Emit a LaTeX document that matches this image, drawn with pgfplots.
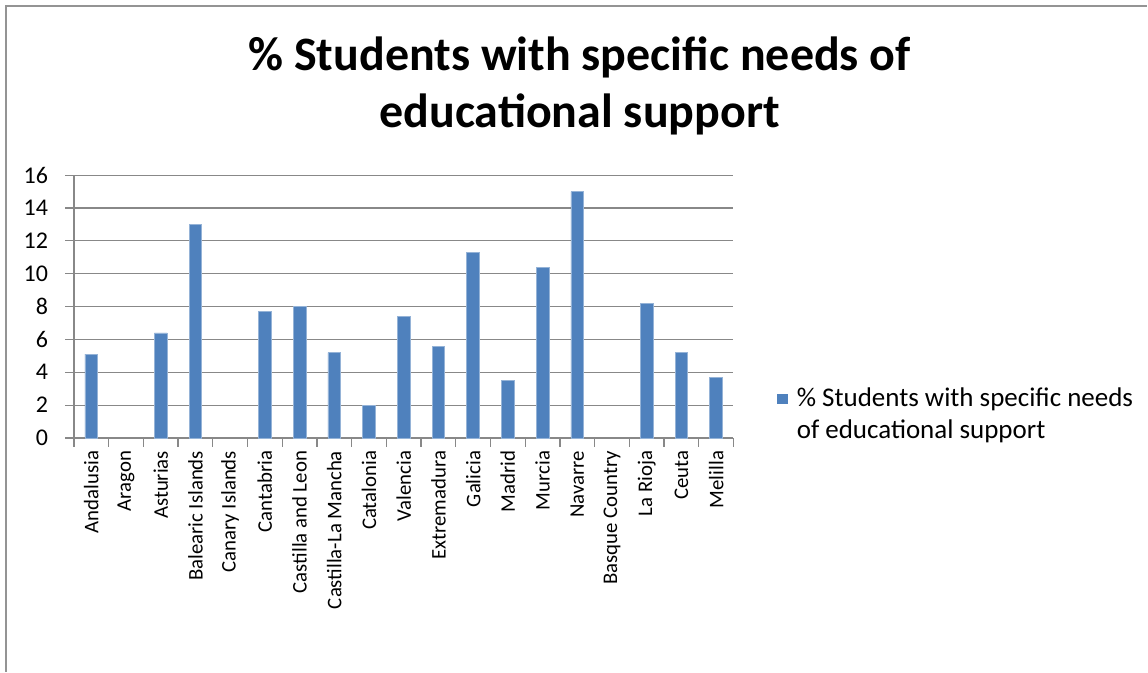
\documentclass[border=0pt]{standalone}
\usepackage{pgfplots}
\pgfplotsset{compat=1.18}
\usepackage{fontspec}
\setmainfont{Carlito}
\definecolor{barblue}{HTML}{4F81BD}
\definecolor{gridgray}{HTML}{888888}
\begin{document}
\begin{tikzpicture}
\begin{axis}[scale only axis, clip=false,
  width=330pt, height=131.5pt,
  ymin=0, ymax=16, ytick={0,2,...,16},
  xmin=-0.5, xmax=18.5,
  xtick={-0.5,0.5,...,18.5}, x tick label as interval,
  xticklabels={Andalusia,Aragon,Asturias,Balearic Islands,Canary Islands,Cantabria,Castilla and Leon,Castilla-La Mancha,Catalonia,Valencia,Extremadura,Galicia,Madrid,Murcia,Navarre,Basque Country,La Rioja,Ceuta,Melilla},
  x tick label style={rotate=90, anchor=east, font=\fontsize{10.4}{12}\selectfont, inner sep=2pt},
  y tick label style={font=\fontsize{12}{12}\selectfont, inner sep=2pt, xshift=-6.5pt},
  /pgf/number format/assume math mode=true,
  axis lines*=left,
  axis line style={gridgray, line width=0.6pt},
  ymajorgrids, grid style={gridgray, line width=0.6pt},
  tick align=outside, major tick length=4.3pt,
  tick style={gridgray, line width=0.6pt},
  legend style={at={(1.063,0.089)}, anchor=west, draw=none, fill=none, inner sep=1pt,
    font=\fontsize{13.5}{16}\selectfont, cells={align=left}},
  legend image code/.code={\fill[barblue, draw=none] (0pt,5.3pt) rectangle (5.2pt,10.5pt);\path[draw=none, fill=none] (0pt,6pt) -- (7.7pt,6pt);},
]
\addplot[ybar, bar width=6.35pt, fill=barblue, draw=barblue!60!white, line width=0.3pt]
coordinates {(0,5.1) (2,6.4) (3,13.0) (5,7.7) (6,8.0) (7,5.2) (8,2.0) (9,7.4) (10,5.6) (11,11.3) (12,3.5) (13,10.4) (14,15.0) (16,8.2) (17,5.2) (18,3.7)};
\addlegendentry{\% Students with specific needs\\of educational support}
\path (rel axis cs:-0.1121,-0.8886) rectangle (rel axis cs:1.6273,1.6665);
\draw[gridgray!90, line width=0.8pt] (rel axis cs:-0.1030,-0.8886) -- (rel axis cs:-0.1030,1.6437) -- (rel axis cs:1.6273,1.6437);
\node[font=\fontsize{24}{28.5}\selectfont\bfseries, align=center] at (rel axis cs:0.7667,1.3395) {\% Students with specific needs of\\educational support};
\end{axis}
\end{tikzpicture}
\end{document}
